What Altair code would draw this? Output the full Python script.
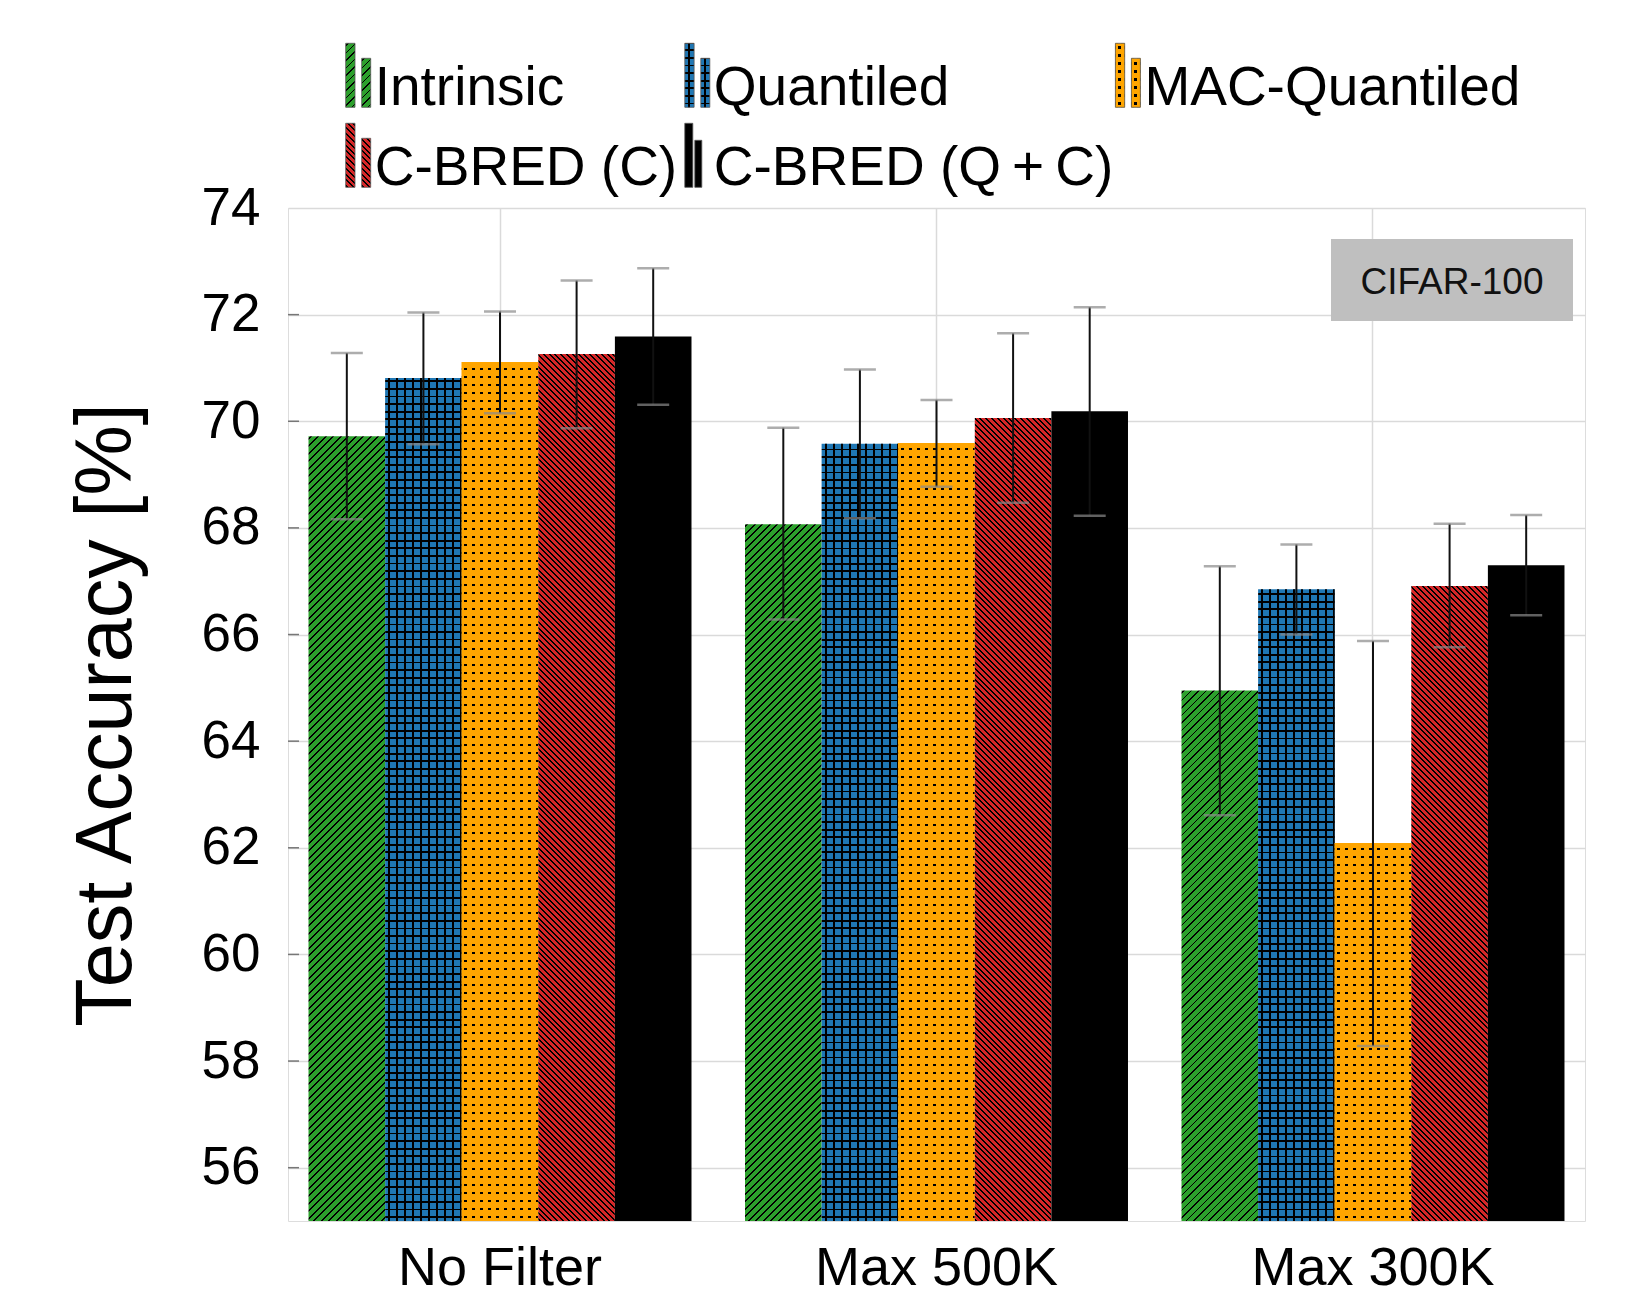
import math
import altair as alt
import pandas as pd

# ---------------- data ----------------
GROUPS = ["No Filter", "Max 500K", "Max 300K"]
SERIES = ["Intrinsic", "Quantiled", "MAC-Quantiled", "C-BRED (C)", "C-BRED (Q\u2009+\u2009C)"]

INTRINSIC_MEAN = [69.72, 68.07, 64.95]
INTRINSIC_LOW = [68.16, 66.28, 62.61]
INTRINSIC_HIGH = [71.28, 69.88, 67.28]

QUANTILED_MEAN = [70.81, 69.58, 66.85]
QUANTILED_LOW = [69.57, 68.18, 66.00]
QUANTILED_HIGH = [72.04, 70.97, 67.69]

MAC_MEAN = [71.11, 69.59, 62.09]
MAC_LOW = [70.15, 68.77, 58.28]
MAC_HIGH = [72.06, 70.40, 65.88]

CBRED_C_MEAN = [71.26, 70.06, 66.91]
CBRED_C_LOW = [69.87, 68.47, 65.76]
CBRED_C_HIGH = [72.64, 71.65, 68.08]

CBRED_QC_MEAN = [71.59, 70.19, 67.30]
CBRED_QC_LOW = [70.31, 68.23, 66.36]
CBRED_QC_HIGH = [72.87, 72.14, 68.24]

Y_MIN, Y_MAX = 55, 74
Y_TICKS = [56, 58, 60, 62, 64, 66, 68, 70, 72, 74]
DATASET_LABEL = "CIFAR-100"
Y_TITLE = "Test Accuracy [%]"

MEANS = [INTRINSIC_MEAN, QUANTILED_MEAN, MAC_MEAN, CBRED_C_MEAN, CBRED_QC_MEAN]
LOWS = [INTRINSIC_LOW, QUANTILED_LOW, MAC_LOW, CBRED_C_LOW, CBRED_QC_LOW]
HIGHS = [INTRINSIC_HIGH, QUANTILED_HIGH, MAC_HIGH, CBRED_C_HIGH, CBRED_QC_HIGH]

records = []
for gi, g in enumerate(GROUPS):
    for s, m, lo, hi in zip(SERIES, MEANS, LOWS, HIGHS):
        records.append({"group": g, "series": s, "mean": m[gi], "lo": lo[gi], "hi": hi[gi]})
df = pd.DataFrame(records)

# ---------------- layout / style ----------------
FONT = "Liberation Sans"
PLOT_W, PLOT_H = 1297, 1013
PAD = {"left": 280, "top": 200, "right": 30, "bottom": 74}
PAD_INNER, PAD_OUTER = 0.1226, 0.047
STEP = PLOT_W / (len(GROUPS) - PAD_INNER + 2 * PAD_OUTER)
BAR_W = STEP * (1 - PAD_INNER) / len(SERIES)

COLORS = {
    SERIES[0]: "#2ca02c",
    SERIES[1]: "#1f77b4",
    SERIES[2]: "#ffa500",
    SERIES[3]: "#d62728",
    SERIES[4]: "#000000",
}
TRANSP = "rgba(0,0,0,0)"
INK = "#000000"


def bar_px(v):
    return (v - Y_MIN) / (Y_MAX - Y_MIN) * PLOT_H


def _stops(span, period, thick, bg, fg, phase=0.0):
    out = [alt.GradientStop(offset=0, color=bg)]
    n = int(span / period) + 3
    for k in range(-2, n):
        c = phase + k * period
        a, b = c - thick / 2, c + thick / 2
        if b <= 0 or a >= span:
            continue
        a = round(max(a, 0.0) / span, 5)
        b = round(min(b, span) / span, 5)
        out += [
            alt.GradientStop(offset=a, color=bg),
            alt.GradientStop(offset=a, color=fg),
            alt.GradientStop(offset=b, color=fg),
            alt.GradientStop(offset=b, color=bg),
        ]
    out.append(alt.GradientStop(offset=1, color=bg))
    return out


def grad_rows(H, period, thick, bg, fg):
    return alt.LinearGradient(gradient="linear", stops=_stops(H, period, thick, bg, fg, period / 2),
                              x1=0, y1=1, x2=0, y2=0)


def grad_cols(W, period, thick, bg, fg):
    return alt.LinearGradient(gradient="linear", stops=_stops(W, period, thick, bg, fg, period / 2),
                              x1=0, y1=0, x2=1, y2=0)


def grad_diag(W, H, period, thick, bg, fg, forward=True):
    k = (W + H) / (W * W + H * H)
    span = W + H
    st = _stops(span, period, thick * math.sqrt(2), bg, fg, period / 3)
    if forward:  # '/' lines
        return alt.LinearGradient(gradient="linear", stops=st, x1=0, y1=0, x2=k * W, y2=k * H)
    return alt.LinearGradient(gradient="linear", stops=st, x1=0, y1=1, x2=k * W, y2=1 - k * H)


def fills_for(series, W, H):
    col = COLORS[series]
    i = SERIES.index(series)
    if i == 0:
        return [grad_diag(W, H, 7.5, 1.3, col, INK, True)]
    if i == 1:
        return [grad_rows(H, 7.6, 1.8, col, INK), grad_cols(W, 8.0, 1.8, TRANSP, INK)]
    if i == 2:
        return [grad_rows(H, 8.0, 2.6, col, INK), grad_cols(W, 8.0, 2.6, col, TRANSP)]
    if i == 3:
        return [grad_diag(W, H, 5.8, 1.4, col, INK, False)]
    return [col]


# ---------------- shared encodings ----------------
X_AXIS = alt.Axis(title=None, labelFontSize=54, labelColor="black", labelAngle=0, labelFont=FONT,
                  labelPadding=63, labelBaseline="alphabetic", labelLimit=0, ticks=False, tickSize=0,
                  domain=False, grid=True, gridColor="#dadada", gridWidth=1.5)
Y_AXIS = alt.Axis(values=Y_TICKS, title=Y_TITLE, titleFontSize=79, titleFontWeight="normal",
                  titleColor="black", titleFont=FONT, titleX=-158, titleY=PLOT_H / 2,
                  titleAngle=270, titleAlign="center", titleBaseline="alphabetic", titleLimit=0,
                  labelFontSize=53, labelColor="black", labelFont=FONT, labelPadding=28,
                  ticks=False, tickSize=0, domain=False, grid=True, gridColor="#dadada",
                  gridWidth=1.5, labelFlush=False, format="d")
X_SCALE = alt.Scale(domain=GROUPS, paddingInner=PAD_INNER, paddingOuter=PAD_OUTER)
XO_SCALE = alt.Scale(domain=SERIES, paddingInner=0, paddingOuter=0)
Y_SCALE = alt.Scale(domain=[Y_MIN, Y_MAX], nice=False, zero=False)


def X():
    return alt.X("group:N", scale=X_SCALE, axis=X_AXIS)


def XO():
    return alt.XOffset("series:N", scale=XO_SCALE)


def Y(field):
    return alt.Y(f"{field}:Q", scale=Y_SCALE, axis=Y_AXIS)


layers = []

# bars with pattern fills
for rec in records:
    H = bar_px(rec["mean"])
    for f in fills_for(rec["series"], BAR_W, H):
        layers.append(
            alt.Chart(pd.DataFrame([rec])).mark_bar(fill=f, strokeWidth=0).encode(
                x=X(), xOffset=XO(), y=Y("mean"), y2=alt.datum(Y_MIN)
            )
        )

# inner left ticks
layers.append(
    alt.Chart(pd.DataFrame({"t": Y_TICKS[:-1]})).mark_rule(color="#777777", strokeWidth=1.5).encode(
        y=Y("t"), x=alt.value(0), x2=alt.value(11)
    )
)

# error bars
layers.append(
    alt.Chart(df).mark_rule(color="#111111", strokeWidth=2).encode(
        x=X(), xOffset=XO(), y=Y("hi"), y2="lo:Q"
    )
)
for fld in ["hi", "lo"]:
    layers.append(
        alt.Chart(df).mark_tick(color="#8a8a8a", size=32, thickness=2.5).encode(
            x=X(), xOffset=XO(), y=Y(fld)
        )
    )

one = pd.DataFrame({"k": [0]})

# dataset badge
layers.append(
    alt.Chart(one).mark_rect(fill="#bfbfbf", strokeWidth=0).encode(
        x=alt.value(1043), x2=alt.value(1285), y=alt.value(31), y2=alt.value(113)
    )
)
layers.append(
    alt.Chart(one).mark_text(fontSize=37, font=FONT, color="#111111", align="center",
                             baseline="alphabetic").encode(
        x=alt.value(1164), y=alt.value(86), text=alt.value(DATASET_LABEL)
    )
)

# legend (manual, drawn above the plot area)
LEG_COL_X = [57.7, 396.8, 827.4]
LEG_ROW_BASE = [-103, -23]
LEG_CELLS = [(0, 0), (1, 0), (2, 0), (0, 1), (1, 1)]
for s, (c, r) in zip(SERIES, LEG_CELLS):
    x0 = LEG_COL_X[c]
    bottom = LEG_ROW_BASE[r] + 2.3
    if s == SERIES[4]:
        bars = [(0, 8, 64), (10, 17, 47)]
    else:
        bars = [(0, 9.3, 64), (16, 25, 49)]
    for (a, b, h) in bars:
        fl = fills_for(s, b - a, h)
        for j, f in enumerate(fl):
            last = j == len(fl) - 1
            layers.append(
                alt.Chart(one).mark_rect(fill=f, stroke="#555555" if last else TRANSP,
                                         strokeWidth=0.8 if last else 0).encode(
                    x=alt.value(x0 + a), x2=alt.value(x0 + b),
                    y=alt.value(bottom - h), y2=alt.value(bottom)
                )
            )
    layers.append(
        alt.Chart(one).mark_text(fontSize=55, font=FONT, color="black", align="left",
                                 baseline="alphabetic").encode(
            x=alt.value(x0 + 29), y=alt.value(LEG_ROW_BASE[r]), text=alt.value(s)
        )
    )

chart = (
    alt.layer(*layers)
    .properties(width=PLOT_W, height=PLOT_H, autosize=alt.AutoSizeParams(type="none"), padding=PAD)
    .configure_view(stroke="#555555", strokeWidth=1.5)
    .configure(background="white")
)

chart.save("out.html", embed_options={"renderer": "svg", "actions": False})
